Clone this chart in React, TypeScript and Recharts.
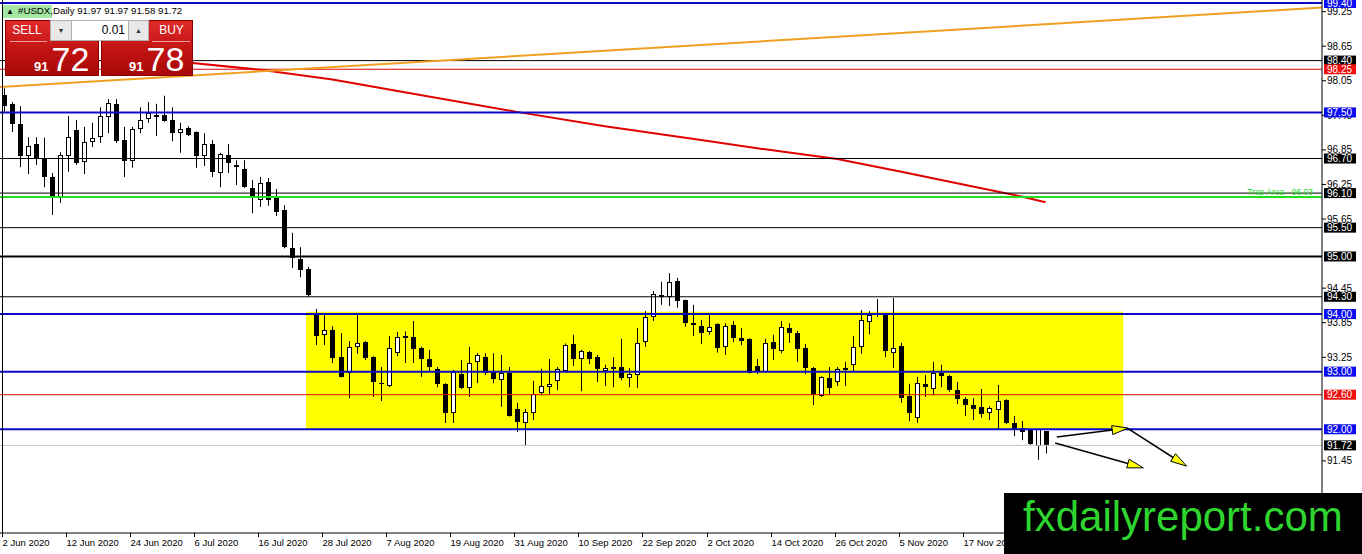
import React from 'react';
import { ComposedChart, Bar, Line, XAxis, YAxis, ReferenceLine, ReferenceArea } from 'recharts';

// daily candles, 2 Jun 2020 .. 1 Dec 2020 (weekdays)
const opens = [97.80, 97.65, 97.30, 96.74, 96.95, 96.69, 96.38, 96.03, 96.74, 97.19,
  96.64, 96.99, 97.07, 97.42, 97.65, 97.02, 96.66, 97.21, 97.39, 97.46,
  97.46, 97.37, 97.14, 97.23, 97.16, 96.74, 96.95, 96.45, 96.76, 96.59,
  96.52, 96.19, 95.98, 96.29, 96.01, 95.81, 95.15, 94.96, 94.78, 94.02,
  93.65, 93.72, 93.25, 92.98, 93.43, 93.51, 93.25, 92.80, 92.75, 93.32,
  93.58, 93.60, 93.41, 93.22, 93.05, 92.79, 92.28, 92.96, 92.72, 93.17,
  93.25, 92.99, 92.85, 92.97, 92.35, 92.11, 92.28, 92.63, 92.73, 92.84,
  93.01, 93.48, 93.22, 93.34, 93.25, 93.01, 93.04, 93.08, 92.89, 92.94,
  93.51, 93.95, 94.33, 94.30, 94.57, 94.24, 93.84, 93.79, 93.69, 93.83,
  93.43, 93.81, 93.58, 93.57, 93.10, 92.99, 93.51, 93.36, 93.76, 93.67,
  93.41, 93.06, 92.58, 92.89, 92.82, 93.05, 93.12, 93.43, 93.86, 94.02,
  94.00, 93.33, 93.45, 92.58, 92.20, 92.78, 92.70, 92.98, 92.92, 92.68,
  92.52, 92.42, 92.39, 92.28, 92.33, 92.51, 92.11, 92.02, 92.00, 91.71,
  91.97];
const highs = [97.92, 97.68, 97.61, 97.07, 97.07, 97.06, 96.45, 96.81, 97.44, 97.37,
  97.25, 97.32, 97.59, 97.73, 97.73, 97.25, 97.25, 97.59, 97.68, 97.65,
  97.79, 97.59, 97.32, 97.26, 97.17, 97.14, 97.02, 96.80, 96.95, 96.67,
  96.67, 96.33, 96.38, 96.36, 96.17, 95.89, 95.41, 95.16, 94.82, 94.09,
  94.02, 93.79, 93.67, 93.53, 94.02, 93.53, 93.27, 93.08, 93.62, 93.69,
  93.70, 93.88, 93.43, 93.38, 93.08, 92.80, 93.03, 93.20, 93.43, 93.32,
  93.32, 93.32, 93.29, 93.08, 92.46, 92.35, 92.84, 93.05, 93.22, 93.08,
  93.49, 93.64, 93.38, 93.36, 93.29, 93.12, 93.25, 93.57, 93.06, 93.76,
  94.05, 94.40, 94.56, 94.71, 94.63, 94.25, 94.16, 93.90, 94.02, 93.84,
  93.84, 93.88, 93.76, 93.58, 93.22, 93.57, 93.64, 93.88, 93.84, 93.71,
  93.48, 93.08, 92.92, 93.08, 93.08, 93.17, 93.62, 94.07, 94.05, 94.26,
  94.02, 94.28, 93.50, 92.79, 92.91, 92.94, 93.17, 93.12, 92.94, 92.82,
  92.56, 92.54, 92.70, 92.40, 92.77, 92.52, 92.23, 92.14, 92.01, 92.01,
  91.97];
const lows = [97.51, 97.16, 96.55, 96.43, 96.59, 96.20, 95.72, 95.93, 96.47, 96.59,
  96.43, 96.90, 96.97, 97.14, 96.97, 96.38, 96.54, 97.14, 97.32, 97.09,
  97.34, 97.00, 96.80, 97.09, 96.54, 96.57, 96.38, 96.20, 96.45, 96.24,
  96.19, 95.75, 95.86, 95.88, 95.70, 95.14, 94.80, 94.64, 94.30, 93.46,
  93.46, 93.15, 92.90, 92.54, 93.31, 93.20, 92.56, 92.49, 92.73, 93.27,
  93.15, 93.15, 92.91, 92.99, 92.73, 92.11, 92.11, 92.70, 92.56, 92.80,
  92.94, 92.80, 92.39, 92.22, 91.95, 91.71, 92.16, 92.59, 92.61, 92.68,
  92.99, 93.10, 92.66, 93.13, 92.82, 92.75, 92.73, 92.85, 92.73, 92.72,
  93.43, 93.88, 94.16, 94.14, 94.11, 93.78, 93.62, 93.48, 93.64, 93.33,
  93.29, 93.51, 93.46, 92.97, 92.96, 92.98, 93.20, 93.32, 93.50, 93.17,
  92.96, 92.42, 92.56, 92.61, 92.75, 92.75, 92.99, 93.31, 93.65, 93.95,
  93.25, 93.06, 92.46, 92.14, 92.11, 92.56, 92.59, 92.73, 92.65, 92.44,
  92.23, 92.16, 92.20, 92.16, 91.99, 92.09, 91.88, 91.81, 91.73, 91.47,
  91.58];
const closes = [97.61, 97.30, 96.74, 96.92, 96.69, 96.38, 96.05, 96.76, 97.07, 96.62,
  96.99, 97.06, 97.44, 97.66, 97.00, 96.66, 97.21, 97.37, 97.49, 97.42,
  97.35, 97.14, 97.21, 97.11, 96.74, 96.95, 96.47, 96.78, 96.62, 96.55,
  96.20, 96.05, 96.28, 95.98, 95.77, 95.16, 94.97, 94.77, 94.33, 93.62,
  93.73, 93.24, 92.91, 93.43, 93.50, 93.24, 92.82, 92.78, 93.41, 93.60,
  93.62, 93.39, 93.22, 93.08, 92.79, 92.28, 92.99, 92.72, 93.15, 93.29,
  92.98, 92.87, 92.97, 92.23, 92.13, 92.30, 92.61, 92.75, 92.79, 93.05,
  93.47, 93.22, 93.36, 93.22, 93.05, 93.06, 93.08, 92.89, 92.96, 93.50,
  93.95, 94.35, 94.30, 94.56, 94.23, 93.84, 93.81, 93.67, 93.78, 93.41,
  93.79, 93.58, 93.53, 92.98, 92.99, 93.50, 93.38, 93.77, 93.67, 93.39,
  93.06, 92.59, 92.91, 92.72, 93.05, 93.07, 93.43, 93.90, 93.98, 94.00,
  93.36, 93.41, 92.54, 92.28, 92.80, 92.72, 92.98, 92.92, 92.68, 92.52,
  92.42, 92.35, 92.26, 92.37, 92.49, 92.11, 91.99, 91.95, 91.74, 92.00,
  91.72];

// moving average (red curve), sampled at bar indexes
const maIdx = [22, 32, 41, 50, 64, 75, 87, 95, 104, 112, 120, 127, 130];
const maValues = [98.38, 98.24, 98.07, 97.85, 97.51, 97.26, 97.02, 96.86, 96.69, 96.47, 96.24, 96.04, 95.94];

const dateTickIdx = [0, 8, 16, 24, 32, 40, 48, 56, 64, 72, 80, 88, 96, 104, 112, 120];
const dateLabels = ['2 Jun 2020', '12 Jun 2020', '24 Jun 2020', '6 Jul 2020', '16 Jul 2020', '28 Jul 2020',
  '7 Aug 2020', '19 Aug 2020', '31 Aug 2020', '10 Sep 2020', '22 Sep 2020', '2 Oct 2020',
  '14 Oct 2020', '26 Oct 2020', '5 Nov 2020', '17 Nov 2020'];

// plain scale labels that are not hidden behind a level box
const priceTicks = [99.25, 98.65, 98.05, 97.45, 96.85, 96.25, 95.65, 94.45, 93.85, 93.25, 91.45];
const blueLevels = [99.40, 97.50, 94.00, 93.00, 92.00];
const blackLevels = [98.40, 96.70, 96.10, 95.50, 94.30];
const boldLevels = [95.00];
const redLevels = [98.25, 92.60];
const bidLevel = 91.72;
const trapLevel = 96.03;
const boxLevels = [99.40, 98.40, 98.25, 97.50, 96.70, 96.10, 95.50, 95.00, 94.30, 94.00, 93.00, 92.60, 92.00, 91.72];

// yellow range box and trend line, in bar index / price
const zone = { x1: 37.7, x2: 139.7, y1: 92.01, y2: 94.04 };
const trendLine = [{ x: -0.5, y: 97.94 }, { x: 164.5, y: 99.32 }];
const arrowFromIdx = [131.4, 140.3, 131.2];
const arrowFromPrice = [91.865, 92.01, 91.76];
const arrowToIdx = [140.3, 147.6, 142.2];
const arrowToPrice = [92.02, 91.36, 91.33];

const FONT = '"Liberation Sans", Arial, sans-serif';
const BLUE = '#0a0ac8';
const RED = '#e00000';

const data = opens.map((o, i) => ({
  idx: i,
  open: o,
  close: closes[i],
  range: [lows[i], highs[i]],
  ma: null as number | null,
}));
maIdx.forEach((k, j) => { data[k].ma = maValues[j]; });

const Candle = (props: any) => {
  const { x, y, width, height, payload } = props;
  if (!payload || payload.open == null || !Number.isFinite(x) || !Number.isFinite(y)) return null;
  const [lo, hi] = payload.range;
  const top = Math.min(y, y + height);
  const h = Math.abs(height);
  const k = h / (hi - lo);
  const cx = Math.floor(x + width / 2) + 0.5;
  const yO = top + (hi - payload.open) * k;
  const yC = top + (hi - payload.close) * k;
  const up = payload.close >= payload.open;
  const bTop = Math.round(Math.min(yO, yC));
  const bH = Math.max(1, Math.round(Math.abs(yC - yO)));
  return (
    <g>
      <line x1={cx} x2={cx} y1={top} y2={top + h} stroke="#000" strokeWidth={1} />
      {up ? (
        <rect x={cx - 2} y={bTop + 0.5} width={4} height={Math.max(1, bH - 1)} fill="#fff" stroke="#000" strokeWidth={1} />
      ) : (
        <rect x={cx - 2.5} y={bTop} width={5} height={bH} fill="#000" />
      )}
    </g>
  );
};

const boxFill = (v: number) => {
  if (blueLevels.includes(v)) return '#0c0cf0';
  if (redLevels.includes(v)) return '#f01010';
  return '#000';
};

const PriceTick = (props: any) => {
  const { x, y, payload } = props;
  const v = payload.value as number;
  if (boxLevels.includes(v)) {
    return (
      <g>
        <rect x={x + 2} y={y - 5} width={32} height={10} fill={boxFill(v)} />
        <text x={x + 5} y={y + 3.6} fill="#fff" fontSize={10} fontFamily={FONT}>{v.toFixed(2)}</text>
      </g>
    );
  }
  return (
    <g>
      <line x1={x} x2={x + 4} y1={y} y2={y} stroke="#000" />
      <text x={x + 5} y={y + 3.5} fill="#000" fontSize={10} fontFamily={FONT}>{v.toFixed(2)}</text>
    </g>
  );
};

const DateTick = (props: any) => {
  const { x, y, payload } = props;
  const label = dateLabels[dateTickIdx.indexOf(payload.value)];
  const tx = Math.floor(x) - 1.5;
  return (
    <g>
      <line x1={tx} x2={tx} y1={y} y2={y + 4} stroke="#000" />
      <text x={tx} y={y + 13} fill="#000" fontSize={9.5} fontFamily={FONT}>{label}</text>
    </g>
  );
};

const ArrowShape = (p: any) => {
  const { x1, y1, x2, y2 } = p;
  if (![x1, y1, x2, y2].every(Number.isFinite)) return null;
  const len = Math.hypot(x2 - x1, y2 - y1);
  const ux = (x2 - x1) / len;
  const uy = (y2 - y1) / len;
  const bx = x2 - ux * 16;
  const by = y2 - uy * 16;
  const nx = -uy * 4.5;
  const ny = ux * 4.5;
  return (
    <g>
      <line x1={x1} y1={y1} x2={bx} y2={by} stroke="#000" strokeWidth={1.5} />
      <polygon points={`${x2},${y2} ${bx + nx},${by + ny} ${bx - nx},${by - ny}`} fill="#ffff00" stroke="#000" strokeWidth={1} />
    </g>
  );
};

const TrapLabel = (props: any) => {
  const vb = props.viewBox;
  if (!vb) return null;
  return (
    <text x={vb.x + vb.width - 9} y={vb.y - 2} textAnchor="end" fill="#22dd22" fontSize={8.5} fontFamily={FONT}>
      Trap Area - 96.03
    </text>
  );
};

const redGrad = 'linear-gradient(#e22a2a, #c01212 55%, #a80808)';

const abs = (s: React.CSSProperties): React.CSSProperties => ({ position: 'absolute', ...s });

function TradePanel() {
  return (
    <>
      <div style={abs({ left: 3, top: 5, width: 49, height: 13, background: '#a4e6a4' })} />
      <div style={abs({ left: 6, top: 5, fontSize: 8, lineHeight: '13px', color: '#000' })}>▲</div>
      <div style={abs({ left: 18, top: 4, fontSize: 9.7, lineHeight: '14px', color: '#000', whiteSpace: 'nowrap' })}>
        #USDX,Daily 91.97 91.97 91.58 91.72
      </div>
      <div style={abs({ left: 5, top: 20, width: 94, height: 56, background: redGrad, boxSizing: 'border-box', border: '1px solid #8a0000' })} />
      <div style={abs({ left: 101, top: 20, width: 92, height: 56, background: redGrad, boxSizing: 'border-box', border: '1px solid #8a0000' })} />
      <div style={abs({ left: 5, top: 20, width: 44, height: 21, color: '#fff', fontSize: 12, lineHeight: '21px', textAlign: 'center' })}>SELL</div>
      <div style={abs({ left: 10, top: 41, width: 37, height: 1, background: '#f0a0a0' })} />
      <div style={abs({ left: 150, top: 20, width: 43, height: 21, color: '#fff', fontSize: 12, lineHeight: '21px', textAlign: 'center' })}>BUY</div>
      <div style={abs({ left: 152, top: 41, width: 38, height: 1, background: '#f0a0a0' })} />
      <div style={abs({ left: 50, top: 20, width: 22, height: 21, boxSizing: 'border-box', background: '#e8e8e8', border: '1px solid #b0b0b0', fontSize: 7, lineHeight: '19px', textAlign: 'center', color: '#333' })}>▼</div>
      <div style={abs({ left: 72, top: 20, width: 56, height: 21, boxSizing: 'border-box', background: '#fff', borderTop: '1px solid #b0b0b0', borderBottom: '1px solid #b0b0b0', fontSize: 12, lineHeight: '19px', textAlign: 'right', paddingRight: 3, color: '#000' })}>0.01</div>
      <div style={abs({ left: 128, top: 20, width: 21, height: 21, boxSizing: 'border-box', background: '#e8e8e8', border: '1px solid #b0b0b0', fontSize: 7, lineHeight: '19px', textAlign: 'center', color: '#333' })}>▲</div>
      <div style={abs({ left: 34, top: 42, fontSize: 34, lineHeight: '34px', color: '#fff', whiteSpace: 'nowrap' })}>
        <span style={{ fontSize: 13, fontWeight: 'bold' }}>91</span>
        <span style={{ marginLeft: 3 }}>72</span>
      </div>
      <div style={abs({ left: 129, top: 42, fontSize: 34, lineHeight: '34px', color: '#fff', whiteSpace: 'nowrap' })}>
        <span style={{ fontSize: 13, fontWeight: 'bold' }}>91</span>
        <span style={{ marginLeft: 3 }}>78</span>
      </div>
    </>
  );
}

export default function App() {
  return (
    <div style={{ position: 'absolute', left: 0, top: 0, width: 1362, height: 554, background: '#fff', overflow: 'hidden', fontFamily: FONT }}>
      <ComposedChart width={1362} height={554} data={data} margin={{ top: 0, right: 0, bottom: 0, left: 0 }}>
        <XAxis
          type="number"
          dataKey="idx"
          domain={[-0.5, 164.5]}
          allowDataOverflow
          ticks={dateTickIdx}
          interval={0}
          height={21}
          tickLine={false}
          tickSize={0}
          tickMargin={0}
          axisLine={{ stroke: '#000' }}
          tick={<DateTick />}
        />
        <YAxis
          type="number"
          orientation="right"
          domain={[90.199, 99.452]}
          allowDataOverflow
          ticks={[...priceTicks, ...boxLevels]}
          interval={0}
          width={40}
          tickLine={false}
          tickSize={0}
          tickMargin={0}
          axisLine={{ stroke: '#000' }}
          tick={<PriceTick />}
        />
        <ReferenceArea x1={zone.x1} x2={zone.x2} y1={zone.y1} y2={zone.y2} fill="#ffff00" fillOpacity={1} stroke="none" />
        <Bar dataKey="range" barSize={5} shape={<Candle />} isAnimationActive={false} />
        <Line dataKey="ma" type="linear" stroke={RED} strokeWidth={2} dot={false} connectNulls isAnimationActive={false} />
        <ReferenceLine y={bidLevel} stroke="#c4c4c4" strokeWidth={1} />
        {blackLevels.map((v) => <ReferenceLine key={'k' + v} y={v} stroke="#000" strokeWidth={1} />)}
        {boldLevels.map((v) => <ReferenceLine key={'b' + v} y={v} stroke="#000" strokeWidth={2} />)}
        {redLevels.map((v) => <ReferenceLine key={'r' + v} y={v} stroke={RED} strokeWidth={1} />)}
        {blueLevels.map((v) => <ReferenceLine key={'u' + v} y={v} stroke={BLUE} strokeWidth={2} />)}
        <ReferenceLine y={trapLevel} stroke="#22dd22" strokeWidth={2} label={(p: any) => <TrapLabel {...p} />} />
        <ReferenceLine segment={trendLine} stroke="#f0a020" strokeWidth={2} ifOverflow="visible" />
        {arrowFromIdx.map((fx, i) => (
          <ReferenceLine
            key={'a' + i}
            segment={[{ x: fx, y: arrowFromPrice[i] }, { x: arrowToIdx[i], y: arrowToPrice[i] }]}
            ifOverflow="visible"
            shape={(p: any) => <ArrowShape {...p} />}
          />
        ))}
      </ComposedChart>
      <div style={abs({ left: 2, top: 0, width: 1, height: 533, background: '#000' })} />
      <TradePanel />
      <div style={abs({ left: 1004, top: 493, width: 358, height: 61, background: '#000' })}>
        <div style={abs({ left: 19, top: 3, fontSize: 42, lineHeight: '42px', color: '#2fd52f', whiteSpace: 'nowrap' })}>
          fxdailyreport.com
        </div>
      </div>
    </div>
  );
}
